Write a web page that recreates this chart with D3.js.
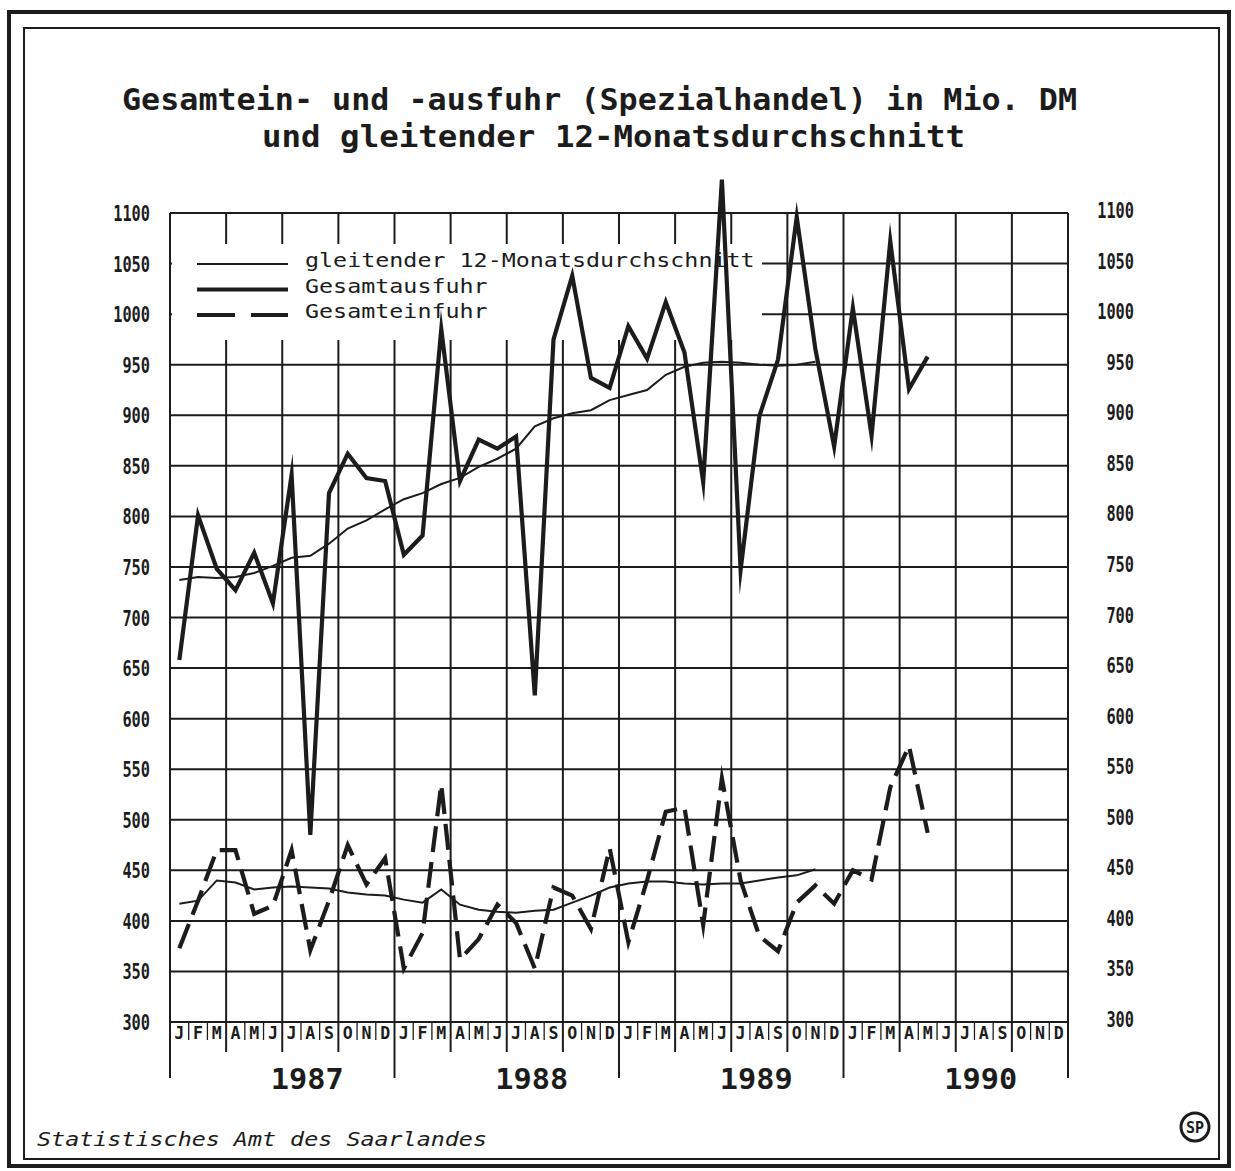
<!DOCTYPE html>
<html>
<head>
<meta charset="utf-8">
<script src="https://cdn.jsdelivr.net/npm/d3@7"></script>
<style>
  body { margin: 0; background: #fff; }
  text { font-family: "DejaVu Sans Mono", monospace; fill: #1c1c1c; }
</style>
</head>
<body>
<div id="chart"></div>
<script>
// Daten (Mio. DM), Januar 1987 bis Dezember 1990
const years = ["1987", "1988", "1989", "1990"];
const monthLetters = ["J", "F", "M", "A", "M", "J", "J", "A", "S", "O", "N", "D"];
const yTicks = [300, 350, 400, 450, 500, 550, 600, 650, 700, 750, 800, 850, 900, 950, 1000, 1050, 1100];

const ausfuhr = [
  658, 801, 748, 727, 764, 714, 841, 485, 823, 862, 838, 835,
  762, 781, 985, 835, 876, 867, 879, 623, 975, 1038, 937, 927,
  988, 956, 1012, 962, 834, 1133, 747, 899, 955, 1096, 965, 869,
  1006, 880, 1072, 926, 958
];
const ausfuhrSchnitt = [
  737, 740, 739, 740, 744, 751, 759, 761, 773, 788, 796, 807,
  817, 823, 832, 838, 849, 857, 867, 889, 897, 902, 905, 915,
  920, 925, 940, 948, 952, 953, 952, 950, 949, 950, 953
];
const einfuhr = [
  373, 420, 470, 470, 407, 415, 470, 371, 420, 475, 436, 462,
  353, 388, 535, 362, 382, 416, 398, 353, 433, 425, 392, 472,
  379, 440, 508, 512, 396, 541, 440, 385, 370, 418, 435, 417,
  450, 441, 532, 573, 487
];
const einfuhrSchnitt = [
  417, 420, 440, 438, 431, 433, 434, 433, 432, 428, 426, 425,
  421, 418, 431, 416, 411, 409, 408, 410, 411, 418, 425, 433,
  437, 439, 439, 437, 436, 437, 437, 440, 443, 445, 451
];

const legendItems = [
  { label: "gleitender 12-Monatsdurchschnitt", width: 2, dash: null },
  { label: "Gesamtausfuhr", width: 4, dash: null },
  { label: "Gesamteinfuhr", width: 4, dash: "38,16" }
];

// SVG
const width = 1235, height = 1171;
const ink = "#1c1c1c";
const svg = d3.select("#chart")
  .append("svg")
  .attr("width", width)
  .attr("height", height);

// Rahmen
svg.append("rect")
  .attr("x", 9).attr("y", 12).attr("width", 1220).attr("height", 1154)
  .attr("fill", "none").attr("stroke", ink).attr("stroke-width", 4);
svg.append("rect")
  .attr("x", 24).attr("y", 28).attr("width", 1195).attr("height", 1131)
  .attr("fill", "none").attr("stroke", ink).attr("stroke-width", 2);

// Titel
svg.append("text")
  .attr("x", 122).attr("y", 110)
  .attr("textLength", 955).attr("lengthAdjust", "spacingAndGlyphs")
  .style("font-size", "30px").style("font-weight", "bold")
  .text("Gesamtein- und -ausfuhr (Spezialhandel) in Mio. DM");
svg.append("text")
  .attr("x", 262).attr("y", 147)
  .attr("textLength", 703).attr("lengthAdjust", "spacingAndGlyphs")
  .style("font-size", "30px").style("font-weight", "bold")
  .text("und gleitender 12-Monatsdurchschnitt");

// Skalen
const x = d3.scaleLinear().domain([0, 48]).range([170, 1068]);
const y = d3.scaleLinear().domain([300, 1100]).range([1022, 213]);
const xm = i => x(i + 0.5);

// Gitter
svg.append("g").selectAll("line")
  .data(yTicks)
  .enter().append("line")
  .attr("x1", x(0)).attr("x2", x(48))
  .attr("y1", d => y(d)).attr("y2", d => y(d))
  .attr("stroke", ink).attr("stroke-width", 2);

svg.append("g").selectAll("line")
  .data(d3.range(0, 49, 3))
  .enter().append("line")
  .attr("x1", d => x(d)).attr("x2", d => x(d))
  .attr("y1", y(1100)).attr("y2", y(300))
  .attr("stroke", ink).attr("stroke-width", 2);

// Achsenbeschriftung links und rechts
svg.append("g").selectAll("text")
  .data(yTicks)
  .enter().append("text")
  .attr("x", 150).attr("y", d => y(d) + 8)
  .attr("text-anchor", "end")
  .attr("textLength", d => String(d).length * 9.2).attr("lengthAdjust", "spacingAndGlyphs")
  .style("font-size", "21px").style("font-weight", "bold")
  .text(d => d);
svg.append("g").selectAll("text")
  .data(yTicks)
  .enter().append("text")
  .attr("x", 1134).attr("y", d => y(d) + 5)
  .attr("text-anchor", "end")
  .attr("textLength", d => String(d).length * 9.2).attr("lengthAdjust", "spacingAndGlyphs")
  .style("font-size", "21px").style("font-weight", "bold")
  .text(d => d);

// Monatsstriche unter der x-Achse
svg.append("g").selectAll("line")
  .data(d3.range(0, 49))
  .enter().append("line")
  .attr("x1", d => x(d)).attr("x2", d => x(d))
  .attr("y1", y(300))
  .attr("y2", d => d % 12 === 0 ? 1078 : (d % 3 === 0 ? 1052 : 1040))
  .attr("stroke", ink)
  .attr("stroke-width", d => d % 3 === 0 ? 2 : 1.3);

svg.append("g").selectAll("text")
  .data(d3.range(0, 48))
  .enter().append("text")
  .attr("x", d => xm(d)).attr("y", 1039)
  .attr("text-anchor", "middle")
  .attr("textLength", 10).attr("lengthAdjust", "spacingAndGlyphs")
  .style("font-size", "17px").style("font-weight", "bold")
  .text(d => monthLetters[d % 12]);

svg.append("g").selectAll("text")
  .data(years)
  .enter().append("text")
  .attr("x", (d, i) => x(i * 12 + 6) + 25).attr("y", 1089)
  .attr("text-anchor", "middle")
  .attr("textLength", 73).attr("lengthAdjust", "spacingAndGlyphs")
  .style("font-size", "29px").style("font-weight", "bold")
  .text(d => d);

// Legende (verdeckt das Gitter)
svg.append("rect")
  .attr("x", x(0) + 2).attr("y", 244)
  .attr("width", 590).attr("height", 96)
  .attr("fill", "#fff");

const legend = svg.append("g").selectAll("g")
  .data(legendItems)
  .enter().append("g")
  .attr("transform", (d, i) => `translate(0, ${264 + i * 25.5})`);
legend.append("line")
  .attr("x1", 197).attr("x2", 288)
  .attr("stroke", ink)
  .attr("stroke-width", d => d.width)
  .attr("stroke-dasharray", d => d.dash);
legend.append("text")
  .attr("x", 305).attr("y", 3)
  .attr("textLength", d => d.label.length * 14.05).attr("lengthAdjust", "spacingAndGlyphs")
  .style("font-size", "20px")
  .text(d => d.label);

// Linien
const line = d3.line()
  .x((d, i) => xm(i))
  .y(d => y(d));

function drawSeries(values, w, dash) {
  svg.append("path")
    .datum(values)
    .attr("d", line)
    .attr("fill", "none")
    .attr("stroke", ink)
    .attr("stroke-width", w)
    .attr("stroke-linejoin", "miter")
    .attr("stroke-miterlimit", 12)
    .attr("stroke-dasharray", dash);
}

drawSeries(ausfuhrSchnitt, 2, null);
drawSeries(einfuhrSchnitt, 2, null);
drawSeries(ausfuhr, 4.2, null);
drawSeries(einfuhr, 4.2, "26,10");

// Fusszeile
svg.append("text")
  .attr("x", 37).attr("y", 1146)
  .attr("textLength", 450).attr("lengthAdjust", "spacingAndGlyphs")
  .style("font-size", "20px").style("font-style", "italic")
  .text("Statistisches Amt des Saarlandes");

svg.append("circle")
  .attr("cx", 1195).attr("cy", 1127).attr("r", 14)
  .attr("fill", "none").attr("stroke", ink).attr("stroke-width", 3);
svg.append("text")
  .attr("x", 1195).attr("y", 1133)
  .attr("text-anchor", "middle")
  .attr("textLength", 18).attr("lengthAdjust", "spacingAndGlyphs")
  .style("font-size", "16px").style("font-weight", "bold")
  .text("SP");
</script>
</body>
</html>
